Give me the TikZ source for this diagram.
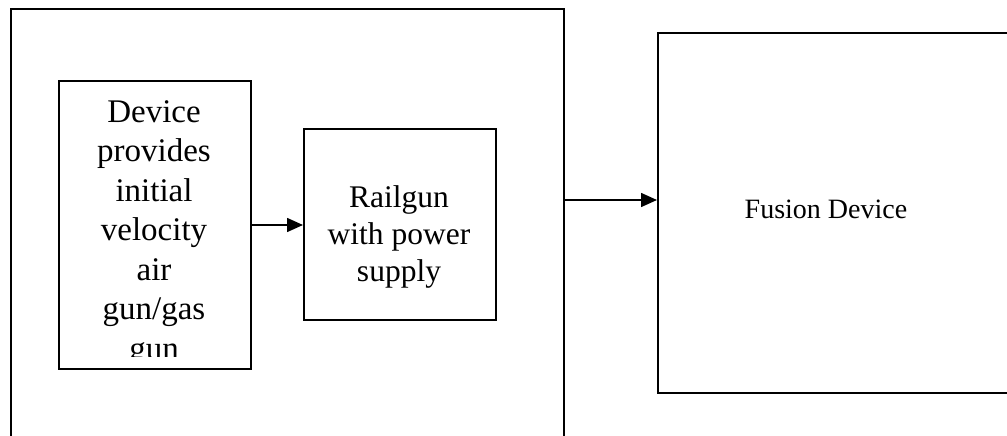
\documentclass[tikz,border=0pt]{standalone}
\usepackage{fontspec}
\setmainfont{Liberation Serif}
\usetikzlibrary{arrows.meta}
\begin{document}
\begin{tikzpicture}[x=1pt,y=-1pt,
  box/.style={draw,line width=2pt,inner sep=0pt,anchor=north west},
  label/.style={inner sep=0pt,align=center},
  link/.style={line width=1.6pt,-{Triangle[length=16pt,width=14pt]}}]
\useasboundingbox (0,0) rectangle (1007,436);
\clip (0,0) rectangle (1007,436);
% frames
\node[box,minimum width=553pt,minimum height=480pt] (outer) at (10,8) {};
\node[box,minimum width=192pt,minimum height=288pt] (src) at (58,80) {};
\node[box,minimum width=192pt,minimum height=191pt] (rail) at (303,128) {};
\node[box,minimum width=420pt,minimum height=360pt] (fus) at (657,32) {};
% texts (the last line of the first box runs past its frame and is cut)
\begin{scope}
  \clip (58,80) rectangle (250,356);
  \node[label,anchor=north,font=\fontsize{33}{39.5}\selectfont] (srctext) at (154,100)
    {Device\\provides\\initial\\velocity\\air\\gun/gas\\gun};
\end{scope}
\node[label,anchor=north,font=\fontsize{31.5}{37}\selectfont] (railtext) at (399,185)
  {Railgun\\with power\\supply};
\node[label,font=\fontsize{28}{34}\selectfont] (fustext) at (826,209) {Fusion Device};
% connectors
\coordinate (exit) at (563,200);
\draw[link] (src.east) -- (src.east -| rail.west);
\draw[link] (exit) -- (exit -| fus.west);
\end{tikzpicture}
\end{document}
